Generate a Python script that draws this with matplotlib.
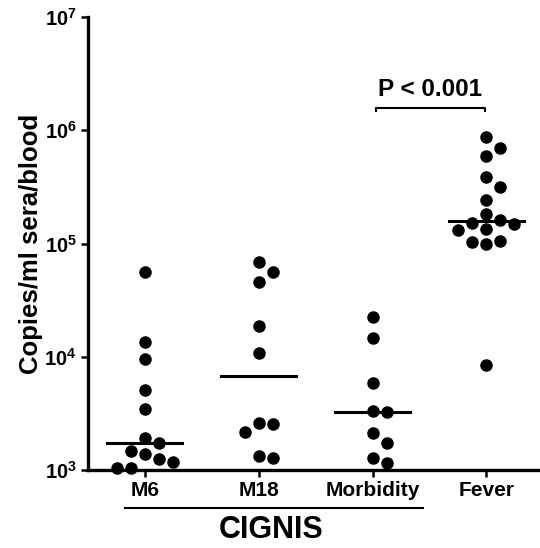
import matplotlib.pyplot as plt
import numpy as np

plt.rcParams['font.family'] = 'Liberation Sans'
plt.rcParams['font.weight'] = 'bold'
plt.rcParams['mathtext.fontset'] = 'custom'
plt.rcParams['mathtext.rm'] = 'Liberation Sans:bold'
plt.rcParams['mathtext.bf'] = 'Liberation Sans:bold'

groups = ['M6', 'M18', 'Morbidity', 'Fever']
m6 = [56000, 13500, 9550, 5080, 3460, 1920, 1730, 1470, 1380, 1250, 1180, 1040, 1040]
m18 = [68700, 56000, 45700, 18700, 10800, 2600, 2550, 2170, 1330, 1280]
morbidity = [22400, 14700, 5870, 3320, 3250, 2120, 1730, 1280, 1150]
fever = [871000, 697000, 593000, 387000, 315000, 242000, 182000, 161000,
         152000, 149000, 134000, 132000, 105000, 103000, 99100, 8450]
decades = [3, 4, 5, 6, 7]
p_label = 'P < 0.001'
study_label = 'CIGNIS'


def swarm(ax, x0, values, diam=14.0, step=14.0):
    # place dots around x0 in pixel space so they do not overlap
    pts = ax.transData.transform(np.column_stack([np.full(len(values), x0), values]))
    placed = []
    for px, py in pts:
        k = 0
        while True:
            cands = [0.0] if k == 0 else [k * step, -k * step]
            ok = None
            for c in cands:
                if all(np.hypot(px + c - qx, py - qy) >= diam for qx, qy in placed):
                    ok = c
                    break
            if ok is not None:
                placed.append((px + ok, py))
                break
            k += 1
    return ax.transData.inverted().transform(np.array(placed))


fig = plt.figure(figsize=(5.4, 5.48), dpi=100)
ax = fig.add_axes([88 / 540, 1 - 470 / 548, 1 - 88 / 540, (470 - 17) / 548])
ax.set_yscale('log')
ax.set_ylim(10 ** decades[0], 10 ** decades[-1])
ax.set_xlim(-0.5, 3.47)

for i, vals in enumerate([m6, m18, morbidity, fever]):
    xy = swarm(ax, i, vals)
    ax.plot(xy[:, 0], xy[:, 1], 'o', color='black', markersize=8, clip_on=False, zorder=3)
    med = np.median(vals)
    ax.plot([i - 0.33, i + 0.33], [med, med], color='black', lw=2.2, zorder=4)

for side in ['top', 'right']:
    ax.spines[side].set_visible(False)
for side in ['left', 'bottom']:
    ax.spines[side].set_linewidth(2.4)

ax.set_yticks([10 ** d for d in decades])
ax.set_yticklabels([r'$\mathbf{10^{%d}}$' % d for d in decades], fontsize=14.5)
ax.yaxis.set_minor_locator(plt.NullLocator())
ax.set_xticks(range(len(groups)))
ax.set_xticklabels(groups, fontsize=15, fontweight='bold')
ax.tick_params(axis='both', length=5, width=1.8, pad=3)
ax.set_ylabel('Copies/ml sera/blood', fontsize=18.5, fontweight='bold')
ax.yaxis.set_label_coords(-0.1, 0.5)

# significance bracket between Morbidity and Fever
yb = 10 ** 6.2
ax.plot([2.03, 2.03, 2.99, 2.99], [yb * 0.94, yb, yb, yb * 0.94], color='black', lw=1.5, clip_on=False)
ax.text(2.5, yb * 10 ** 0.105, p_label, ha='center', va='baseline', fontsize=17.5, fontweight='bold')

# group bar under the CIGNIS cohorts
fig.add_artist(plt.Line2D([125 / 540, 423 / 540], [1 - 508 / 548, 1 - 508 / 548],
                          color='black', lw=1.5))
fig.text(271 / 540, 1 - 538 / 548, study_label, ha='center', va='baseline',
         fontsize=22, fontweight='bold')

fig.savefig('out.png', dpi=100)
